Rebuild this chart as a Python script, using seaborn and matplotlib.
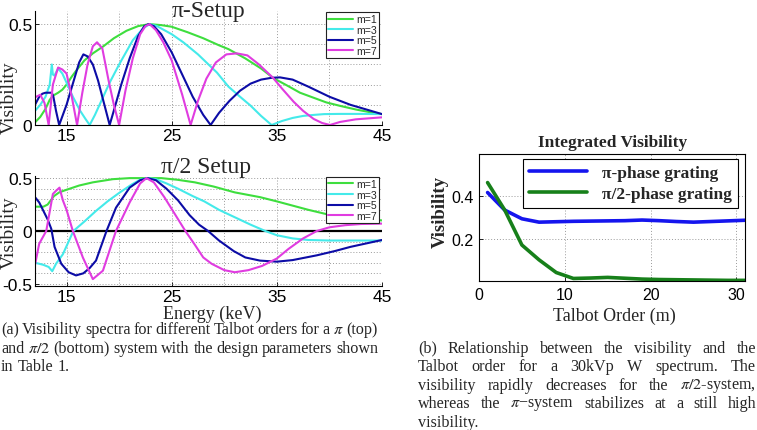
import matplotlib
matplotlib.use("Agg")
import matplotlib.pyplot as plt
import numpy as np
import pandas as pd
import seaborn as sns

# ---------------- data ----------------
# pi-setup, visibility vs energy (keV)
pi_m1_E = [12, 12.5, 13, 13.4, 13.7, 14.2, 14.6, 15, 15.5, 16, 16.7, 17.5, 18.5, 19.5, 20.7, 21.8, 22.9, 24, 25, 26.5,
           28, 29.5, 30.4, 32, 33.5, 34.65, 36, 37.2, 38.5, 39.7, 41, 42.5, 44, 45]
pi_m1_V = [0.013, 0.04, 0.08, 0.125, 0.145, 0.16, 0.175, 0.2, 0.24, 0.275, 0.32, 0.355, 0.39, 0.43, 0.467, 0.49, 0.5,
           0.495, 0.487, 0.46, 0.43, 0.395, 0.376, 0.33, 0.28, 0.233, 0.195, 0.16, 0.135, 0.112, 0.095, 0.077, 0.062, 0.054]

pi_m3_E = [12, 12.5, 13, 13.4, 13.6, 13.7, 13.85, 14.2, 14.6, 15, 15.6, 16.3, 16.8, 17.2, 17.7, 18.4, 19.1, 20, 21.3,
           22.3, 22.9, 23.6, 25, 26.1, 27.5, 29.3, 30.4, 31.5, 32.5, 33.5, 34.5, 35.5, 36.5, 37.5, 38.5, 39.5, 41, 43, 45]
pi_m3_V = [0.07, 0.1, 0.14, 0.2, 0.3, 0.25, 0.245, 0.28, 0.255, 0.21, 0.14, 0.07, 0.03, 0.0, 0.05, 0.13, 0.21, 0.3, 0.42,
           0.48, 0.5, 0.49, 0.45, 0.41, 0.35, 0.26, 0.19, 0.14, 0.096, 0.045, 0.0, 0.02, 0.035, 0.045, 0.05, 0.054, 0.055,
           0.055, 0.054]

pi_m5_E = [12, 12.4, 12.7, 13.0, 13.3, 13.6, 13.75, 14.0, 14.3, 15.0, 15.8, 16.2, 16.6, 17.0, 17.5, 18.0, 18.5, 19.1,
           19.6, 20.2, 21.0, 21.8, 22.4, 22.8, 23.3, 24.0, 25.0, 26.0, 27.0, 28.0, 28.7, 29.5, 30.5, 31.5, 32.5, 33.5,
           34.5, 35.3, 36.5, 38.0, 40.0, 42.0, 45.0]
pi_m5_V = [0.10, 0.14, 0.155, 0.16, 0.16, 0.16, 0.14, 0.07, 0.0, 0.1, 0.24, 0.31, 0.35, 0.34, 0.3, 0.22, 0.12, 0.0,
           0.09, 0.2, 0.33, 0.44, 0.49, 0.5, 0.49, 0.45, 0.36, 0.25, 0.14, 0.05, 0.0, 0.06, 0.12, 0.17, 0.205, 0.225,
           0.234, 0.236, 0.225, 0.19, 0.14, 0.1, 0.054]

pi_m7_E = [12, 12.5, 12.9, 13.3, 13.7, 14.2, 14.6, 15.0, 15.5, 16.0, 16.5, 17.0, 17.5, 17.9, 18.4, 19.0, 19.5, 20.0,
           20.6, 21.3, 22.0, 22.5, 22.9, 23.5, 24.2, 25.0, 26.0, 26.8, 27.5, 28.3, 29.2, 30.2, 31.2, 32.2, 33.3, 34.65,
           35.5, 36.6, 37.5, 38.5, 39.3, 40.05, 41.0, 42.5, 45.0]
pi_m7_V = [0.137, 0.15, 0.11, 0.0, 0.2, 0.285, 0.275, 0.255, 0.14, 0.0, 0.16, 0.3, 0.39, 0.41, 0.38, 0.22, 0.1, 0.0,
           0.17, 0.33, 0.45, 0.49, 0.5, 0.47, 0.41, 0.32, 0.15, 0.0, 0.12, 0.23, 0.31, 0.35, 0.355, 0.345, 0.3, 0.233,
           0.18, 0.115, 0.07, 0.03, 0.01, 0.0, 0.015, 0.028, 0.038]

# pi/2-setup
half_m1_E = [12, 12.8, 13.2, 13.5, 13.8, 14.3, 15.0, 16.2, 17.5, 19.4, 21.0, 22.5, 24.0, 25.5, 27.2, 29.0, 31.0, 33.4,
             35.0, 36.5, 38.0, 39.7, 41.0, 43.0, 45.0]
half_m1_V = [0.23, 0.23, 0.25, 0.29, 0.33, 0.365, 0.39, 0.43, 0.46, 0.49, 0.5, 0.5, 0.5, 0.485, 0.46, 0.42, 0.365, 0.32,
             0.28, 0.24, 0.2, 0.16, 0.14, 0.12, 0.1]

half_m3_E = [12, 12.8, 13.3, 13.64, 14.0, 14.65, 15.65, 16.7, 17.8, 18.9, 20.0, 21.2, 22.0, 22.7, 23.5, 24.5, 25.6,
             27.0, 28.1, 29.5, 31.0, 32.5, 33.9, 35.0, 36.5, 38.0, 40.0, 42.5, 45.0]
half_m3_V = [-0.3, -0.32, -0.34, -0.38, -0.31, -0.22, 0.0, 0.09, 0.19, 0.28, 0.36, 0.44, 0.485, 0.5, 0.49, 0.45, 0.4,
             0.33, 0.28, 0.2, 0.13, 0.06, 0.0, -0.04, -0.07, -0.085, -0.09, -0.09, -0.09]

half_m5_E = [12, 12.4, 12.9, 13.2, 13.55, 13.86, 14.5, 15.2, 15.9, 16.6, 17.2, 17.8, 18.8, 19.7, 21.0, 22.0, 22.7,
             23.5, 24.5, 25.6, 26.7, 27.6, 28.46, 29.5, 30.9, 32.0, 33.4, 35.0, 36.5, 38.8, 40.5, 42.0, 45.0]
half_m5_V = [0.32, 0.27, 0.17, 0.11, 0.02, -0.15, -0.31, -0.39, -0.42, -0.40, -0.35, -0.28, 0.0, 0.22, 0.41, 0.48, 0.5,
             0.48, 0.4, 0.29, 0.15, 0.06, 0.0, -0.09, -0.19, -0.25, -0.28, -0.29, -0.275, -0.23, -0.19, -0.15, -0.085]

half_m7_E = [12, 12.4, 13.07, 13.7, 14.0, 14.33, 14.65, 15.0, 15.6, 16.55, 17.5, 18.46, 19.7, 21.0, 22.0, 22.6, 23.3,
             24.3, 25.3, 26.3, 27.2, 28.0, 28.8, 30.0, 31.0, 32.3, 33.6, 35.0, 36.1, 37.5, 38.8, 40.0, 41.5, 43.0, 45.0]
half_m7_V = [-0.32, -0.12, 0.0, 0.35, 0.38, 0.41, 0.29, 0.2, 0.0, -0.25, -0.455, -0.375, 0.0, 0.27, 0.45, 0.5, 0.46,
             0.32, 0.16, 0.0, -0.13, -0.25, -0.31, -0.37, -0.39, -0.37, -0.33, -0.26, -0.17, -0.07, 0.0, 0.035, 0.055,
             0.066, 0.07]

# integrated visibility vs Talbot order
talbot_m = [1, 3, 5, 7, 9, 11, 13, 15, 17, 19, 21, 23, 25, 27, 29, 31]
vis_pi = [0.418, 0.335, 0.294, 0.278, 0.28, 0.282, 0.283, 0.284, 0.285, 0.288, 0.285, 0.281, 0.278, 0.281, 0.284, 0.287]
vis_half = [0.465, 0.335, 0.17, 0.1, 0.04, 0.012, 0.014, 0.017, 0.013, 0.009, 0.007, 0.006, 0.005, 0.004, 0.003, 0.003]

order_labels = ["m=1", "m=3", "m=5", "m=7"]
energy_ticks = [15, 25, 35, 45]
talbot_ticks = [0, 10, 20, 30]

# ---------------- style ----------------
sns.set_theme(style="white")
SANS = ["Liberation Sans", "DejaVu Sans"]
SERIF = ["Liberation Serif", "DejaVu Serif"]
plt.rcParams["font.family"] = SANS
plt.rcParams["mathtext.fontset"] = "stix"

COLORS = ["#3ede3e", "#44eaea", "#0c0ca6", "#e03ce0"]
PI_BLUE = "#1515ee"
HALF_GREEN = "#17801a"

W, H = 757, 431
fig = plt.figure(figsize=(W / 100, H / 100), dpi=100)


def box(l, t, r, b):
    return [l / W, 1 - b / H, (r - l) / W, (b - t) / H]


def fpos(x, y):
    return x / W, 1 - y / H


ax1 = fig.add_axes(box(35, 12, 382, 126))
ax2 = fig.add_axes(box(35, 177, 382, 287))
ax3 = fig.add_axes(box(479, 155, 745, 282))


def draw(ax, E, V, color, label, lw):
    df = pd.DataFrame({"x": E, "y": V})
    sns.lineplot(data=df, x="x", y="y", ax=ax, color=color, label=label, lw=lw,
                 sort=False, estimator=None)


pi_series = [(pi_m1_E, pi_m1_V), (pi_m3_E, pi_m3_V), (pi_m5_E, pi_m5_V), (pi_m7_E, pi_m7_V)]
half_series = [(half_m1_E, half_m1_V), (half_m3_E, half_m3_V), (half_m5_E, half_m5_V), (half_m7_E, half_m7_V)]

ax2.axhline(0, color="black", lw=1.6, zorder=1)
for (E, V), c, lab in zip(pi_series, COLORS, order_labels):
    draw(ax1, E, V, c, lab, 1.5)
for (E, V), c, lab in zip(half_series, COLORS, order_labels):
    draw(ax2, E, V, c, lab, 1.5)

draw(ax3, talbot_m, vis_pi, PI_BLUE, "π-phase grating", 2.6)
draw(ax3, talbot_m, vis_half, HALF_GREEN, "π/2-phase grating", 2.6)

grid_kw = dict(color="#9a9a9a", linestyle=(0, (1, 2)), linewidth=0.7)

for ax, ylim, yt, ymin in [(ax1, (0, 0.565), [0, 0.5], [0.1, 0.2, 0.3, 0.4]),
                           (ax2, (-0.52, 0.52), [-0.5, 0, 0.5],
                            [-0.4, -0.3, -0.2, -0.1, 0.1, 0.2, 0.3, 0.4])]:
    ax.set_xlim(12, 45)
    ax.set_ylim(*ylim)
    ax.set_xticks(energy_ticks)
    ax.set_xticks([20, 30, 40], minor=True)
    ax.set_yticks(yt)
    ax.set_yticklabels([f"{v:g}" for v in yt])
    ax.set_yticks(ymin, minor=True)
    ax.grid(True, which="both", **grid_kw)
    ax.set_axisbelow(True)
    ax.set_xlabel("")
    ax.set_ylabel("")
    for s in ["top", "right"]:
        ax.spines[s].set_visible(False)
    for s in ["left", "bottom"]:
        ax.spines[s].set_color("black")
        ax.spines[s].set_linewidth(0.8)
    ax.tick_params(which="both", direction="in", length=3, width=0.6, labelsize=12.5, pad=2,
                   bottom=True, left=True, colors="black")
    ax.tick_params(which="minor", length=0)
    leg = ax.legend(loc="upper right", bbox_to_anchor=(0.992, 0.995), fontsize=7.6, frameon=True,
                    fancybox=False, edgecolor="#222222", framealpha=1, handlelength=2.3,
                    labelspacing=0.05, borderpad=0.25, handletextpad=0.3, borderaxespad=0.0)
    leg.get_frame().set_linewidth(0.8)

ax3.set_xlim(0, 31)
ax3.set_ylim(0, 0.6)
ax3.set_xticks(talbot_ticks)
ax3.set_yticks([0.2, 0.4])
ax3.set_yticklabels(["0.2", "0.4"])
ax3.grid(True, **grid_kw)
ax3.set_xlabel("")
ax3.set_ylabel("")
for s in ax3.spines.values():
    s.set_visible(True)
    s.set_color("black")
    s.set_linewidth(0.8)
ax3.tick_params(direction="in", length=3, width=0.6, labelsize=11.5, pad=4, bottom=True, left=True,
                colors="black")
leg3 = ax3.legend(loc="upper right", bbox_to_anchor=(0.974, 0.961), frameon=True, fancybox=False,
                  edgecolor="black", framealpha=1, handlelength=3.3, labelspacing=0.25,
                  borderpad=0.35, handletextpad=0.9, borderaxespad=0.0,
                  prop=dict(family=SERIF, weight="bold", size=12.5))
leg3.get_frame().set_linewidth(0.8)

# ---------------- titles and labels ----------------
fig.text(*fpos(208, 12), "π-Setup", family=SERIF, size=17, ha="center", va="center")
fig.text(*fpos(206, 167), "π/2 Setup", family=SERIF, size=17, ha="center", va="center")
fig.text(*fpos(9, 98), "Visibility", family=SERIF, size=14, rotation=90, ha="center", va="center")
fig.text(*fpos(9, 233), "Visibility", family=SERIF, size=14, rotation=90, ha="center", va="center")
fig.text(*fpos(212, 314), "Energy (keV)", family=SERIF, size=13, ha="center", va="center")
fig.text(*fpos(613, 143), "Integrated Visibility", family=SERIF, weight="bold", size=12.5,
         ha="center", va="center")
fig.text(*fpos(440, 212), "Visibility", family=SERIF, weight="bold", size=13.5, rotation=90,
         ha="center", va="center")
fig.text(*fpos(614, 316), "Talbot Order (m)", family=SERIF, size=13, ha="center", va="center")

# ---------------- captions (justified) ----------------
renderer = fig.canvas.get_renderer()
CAP_SIZE = 11.6


def caption_line(text, x0, x1, y, justify=True):
    words = text.split(" ")
    arts = [fig.text(0, 0, w, family=SERIF, size=CAP_SIZE, ha="left", va="center") for w in words]
    widths = [a.get_window_extent(renderer).width for a in arts]
    space = 0.25 * CAP_SIZE * 100 / 72
    if justify and len(words) > 1:
        gap = max((x1 - x0 - sum(widths)) / (len(words) - 1), 1.5)
    else:
        gap = space
    x = x0
    for a, w in zip(arts, widths):
        a.set_position(fpos(x, y))
        x += w + gap


left_caption = [
    ("(a) Visibility spectra for different Talbot orders for a $\\pi$ (top)", True),
    ("and $\\pi/2$ (bottom) system with the design parameters shown", True),
    ("in Table 1.", False),
]
right_caption = [
    ("(b) Relationship between the visibility and the", True),
    ("Talbot order for a 30kVp W spectrum. The", True),
    ("visibility rapidly decreases for the $\\pi/2$-system,", True),
    ("whereas the $\\pi$−system stabilizes at a still high", True),
    ("visibility.", False),
]
for i, (t, j) in enumerate(left_caption):
    caption_line(t, 1, 378, 330 + 18.6 * i, j)
for i, (t, j) in enumerate(right_caption):
    caption_line(t, 418, 756, 348.6 + 18.6 * i, j)

fig.savefig("out.png", dpi=100)
